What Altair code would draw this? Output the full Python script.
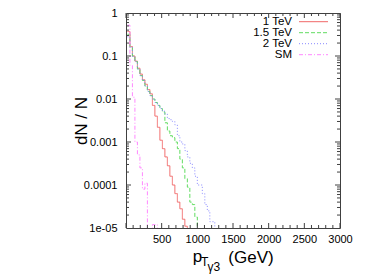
import altair as alt
import pandas as pd

# ---- data ----
bin_first_edge = 20   # GeV
bin_width = 35        # GeV

names = ["1 TeV", "1.5 TeV", "2 TeV", "SM"]

tev1 = [0.37, 0.166, 0.1, 0.076, 0.052, 0.038, 0.028, 0.022, 0.0166, 0.0132,
        0.0071, 0.004, 0.0022, 0.0011, 0.0007, 0.00045, 0.00028, 0.00016,
        0.0001, 0.000063, 0.00004, 0.000028, 0.000016, 0.000011]
tev15 = [0.32, 0.158, 0.1, 0.074, 0.05, 0.035, 0.027, 0.02, 0.015, 0.012,
         0.01, 0.0083, 0.0071, 0.006, 0.005, 0.0028, 0.0018, 0.0014, 0.00126,
         0.001, 0.0007, 0.0004, 0.00025, 0.00014, 0.000089, 0.00004,
         0.000035, 0.000018]
tev2 = [0.28, 0.158, 0.095, 0.074, 0.05, 0.035, 0.027, 0.02, 0.015, 0.012,
        0.01, 0.0083, 0.0071, 0.006, 0.0052, 0.0045, 0.0035, 0.0033, 0.003,
        0.0025, 0.0014, 0.001, 0.0009, 0.00063, 0.00045, 0.00032, 0.00025,
        0.00016, 0.0001, 0.0001, 0.000063, 0.000035, 0.000025, 0.000014,
        0.000014]
sm = [0.52, 0.06, 0.011, 0.001, 0.0005, 0.00025, 0.00008, 0.00011, 0, 0,
      0.000012, 0.000012]

x_labels = [500, 1000, 1500, 2000, 2500, 3000]
x_major = [0, 500, 1000, 1500, 2000, 2500, 3000]
x_minor = [v for v in range(100, 3000, 100) if v % 500 != 0]
y_major = [1e-5, 1e-4, 1e-3, 1e-2, 1e-1, 1]
y_labels = ["1e-05", "0.0001", "0.001", "0.01", "0.1", "1"]
y_minor = [m * 10.0 ** k for k in range(-5, 0) for m in range(2, 10)]

colors = ["#f06868", "#60dc60", "#8888ff", "#ff88ff"]
dashes = [[1, 0], [4, 2], [1, 2], [4, 2, 1, 2]]

W, H = 214, 215
FLOOR = 1e-7
FRAME = "#404040"
FONT = "Liberation Sans"

xs = alt.Scale(domain=[0, 3000], nice=False, zero=False)
ys = alt.Scale(type="log", domain=[1e-5, 1], nice=False)

label_expr = ""
for v, s in zip(y_major[:-1], y_labels[:-1]):
    label_expr += f"datum.value < {v * 3} ? '{s}' : "
label_expr += f"'{y_labels[-1]}'"

x_axis = alt.Axis(values=x_labels, ticks=False, tickSize=0, domain=False, grid=False,
                  labelFont=FONT, labelFontSize=11, labelColor="black", format="d",
                  labelOverlap=False, labelFlush=False,
                  labelPadding=5, title=None)
y_axis = alt.Axis(values=y_major, ticks=False, tickSize=0, domain=False, grid=False,
                  labelFont=FONT, labelFontSize=11, labelColor="black",
                  labelOverlap=False, labelFlush=False,
                  labelPadding=9, labelExpr=label_expr, title=None)

def X(field="x"):
    return alt.X(f"{field}:Q", scale=xs, axis=x_axis)

def Y(field="y"):
    return alt.Y(f"{field}:Q", scale=ys, axis=y_axis)

layers = []
for idx, (name, vals) in enumerate(zip(names, [tev1, tev15, tev2, sm])):
    xv = [bin_first_edge + bin_width * i for i in range(len(vals) + 1)]
    yv = [v if v > 0 else FLOOR for v in vals] + [FLOOR]
    df = pd.DataFrame({"x": xv, "y": yv})
    layers.append(
        alt.Chart(df).mark_line(interpolate="step-after", color=colors[idx],
                                strokeDash=dashes[idx], strokeWidth=1, clip=True)
        .encode(x=X(), y=Y())
    )

# ticks (inward, mirrored, gnuplot style)
def xticks(vals, length):
    d = pd.DataFrame({"x": vals})
    base = alt.Chart(d).mark_rule(color=FRAME, strokeWidth=1)
    return [
        base.encode(x=X(), y=alt.value(H), y2=alt.value(H - length)),
        base.encode(x=X(), y=alt.value(0), y2=alt.value(length)),
    ]

def yticks(vals, length):
    d = pd.DataFrame({"y": vals})
    base = alt.Chart(d).mark_rule(color=FRAME, strokeWidth=1)
    return [
        base.encode(y=Y(), x=alt.value(0), x2=alt.value(length)),
        base.encode(y=Y(), x=alt.value(W), x2=alt.value(W - length)),
    ]

layers += xticks(x_major, 5) + xticks(x_minor, 3)
layers += yticks(y_major[1:-1], 5) + yticks(y_minor, 3)

# legend (labels left of samples, gnuplot style)
for i, name in enumerate(names):
    yy = 8.7 + 11 * i
    d = pd.DataFrame({"t": [name]})
    layers.append(alt.Chart(d).mark_text(align="right", baseline="middle", font=FONT,
                                         fontSize=11.5, color="black")
                  .encode(text="t:N", x=alt.value(166), y=alt.value(yy)))
    layers.append(alt.Chart(d).mark_rule(color=colors[i], strokeDash=dashes[i], strokeWidth=1)
                  .encode(x=alt.value(173), x2=alt.value(202), y=alt.value(yy)))

# axis titles
def txt(s, x, y, size, angle=0, align="left", baseline="alphabetic"):
    d = pd.DataFrame({"t": [s]})
    return alt.Chart(d).mark_text(align=align, baseline=baseline, font=FONT, fontSize=size,
                                  color="black", angle=angle).encode(
        text="t:N", x=alt.value(x), y=alt.value(y))

layers.append(txt("dN / N", -44.5, 108, 17, angle=270, align="center", baseline="middle"))
layers.append(txt("p", 66.7, 249, 17))
layers.append(txt("T", 75, 253, 12))
layers.append(txt("γ3", 81.5, 258, 12))
layers.append(txt("(GeV)", 102.3, 250, 17))

chart = alt.layer(*layers).properties(
    width=W, height=H, background="white",
    autosize=alt.AutoSizeParams(type="none"),
    padding={"left": 118, "top": 5, "right": 30, "bottom": 46},
).configure_view(stroke=FRAME, strokeWidth=1)

chart.save("out.html", embed_options={"renderer": "svg", "actions": False})
